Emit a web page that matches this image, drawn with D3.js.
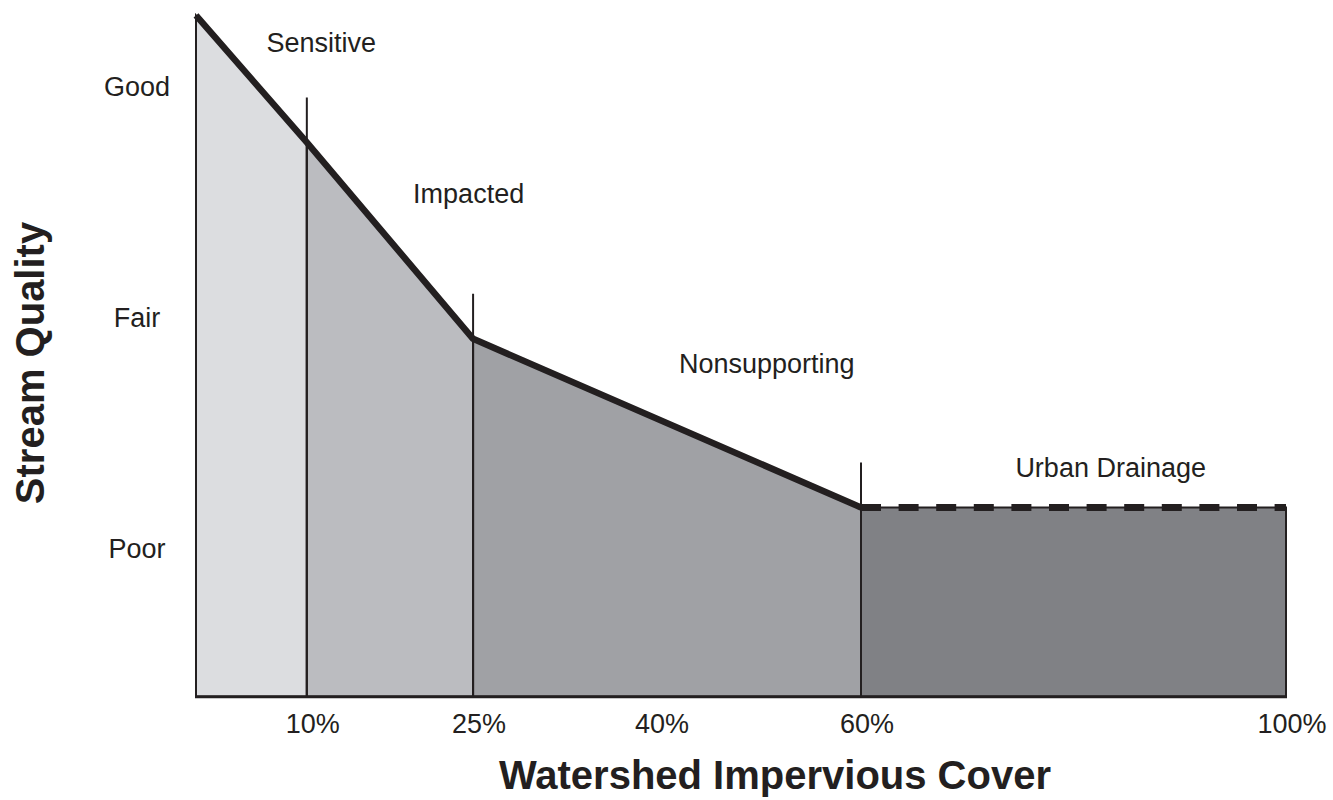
<!DOCTYPE html>
<html>
<head>
<meta charset="utf-8">
<script src="https://cdn.jsdelivr.net/npm/d3@7"></script>
<style>
  body { margin: 0; background: #fff; }
  svg { display: block; font-family: "Liberation Sans", Arial, Helvetica, sans-serif; }
  .lbl { font-size: 27px; fill: #231f20; }
  .title { font-size: 40px; font-weight: bold; fill: #231f20; }
</style>
</head>
<body>
<div id="chart"></div>
<script>
// impervious cover breakpoints (%) and stream quality there (Poor=1, Fair=2, Good=3)
var coverPoints = [0, 10, 25, 60, 100];
var qualityPoints = [3.31, 2.76, 1.91, 1.18, 1.18];
var qualityFloor = 0.36;

var zoneNames = ["Sensitive", "Impacted", "Nonsupporting", "Urban Drainage"];
var zoneColors = ["#dcdde0", "#bbbcc0", "#a0a1a5", "#808185"];
var zoneLabelCover = [11.3, 24.6, 51.5, 83.5];
var zoneLabelQuality = [3.15, 2.5, 1.76, 1.31];

var xTickValues = [10, 25, 41.5, 60, 100];
var xTickLabels = ["10%", "25%", "40%", "60%", "100%"];
var yTickValues = [3, 2, 1];
var yTickLabels = ["Good", "Fair", "Poor"];

var width = 1333, height = 800;

var svg = d3.select("#chart").append("svg")
  .attr("width", width)
  .attr("height", height);

var x = d3.scaleLinear().domain([0, 60, 100]).range([196, 861, 1286]);
var y = d3.scaleLinear().domain([1, 3]).range([549, 87]);

var pts = coverPoints.map(function(c, i) { return {c: c, q: qualityPoints[i]}; });

// filled zones
for (var i = 0; i < 4; i++) {
  var a = pts[i], b = pts[i + 1];
  var poly = [[x(a.c), y(qualityFloor)], [x(a.c), y(a.q)], [x(b.c), y(b.q)], [x(b.c), y(qualityFloor)]];
  svg.append("path")
    .attr("d", d3.line()(poly) + "Z")
    .attr("fill", zoneColors[i])
    .attr("stroke", "#231f20")
    .attr("stroke-width", 2);
}

// zone boundary markers sticking up above the curve
[1, 2, 3].forEach(function(i) {
  svg.append("line")
    .attr("x1", x(pts[i].c)).attr("x2", x(pts[i].c))
    .attr("y1", y(qualityFloor)).attr("y2", y(pts[i].q) - 45)
    .attr("stroke", "#231f20")
    .attr("stroke-width", 2);
});

// bottom axis line
svg.append("line")
  .attr("x1", x(0) - 1).attr("x2", x(100) + 1)
  .attr("y1", y(qualityFloor)).attr("y2", y(qualityFloor))
  .attr("stroke", "#231f20").attr("stroke-width", 3);

// solid quality curve
var line = d3.line().x(function(d) { return x(d.c); }).y(function(d) { return y(d.q); });
svg.append("path")
  .attr("d", line(pts.slice(0, 4)))
  .attr("fill", "none")
  .attr("stroke", "#231f20")
  .attr("stroke-width", 6.5)
  .attr("stroke-linejoin", "round");

// dashed urban drainage level
svg.append("path")
  .attr("d", line(pts.slice(3)))
  .attr("fill", "none")
  .attr("stroke", "#231f20")
  .attr("stroke-width", 7)
  .attr("stroke-dasharray", "20,17.6");

// zone labels
zoneNames.forEach(function(n, i) {
  svg.append("text")
    .attr("class", "lbl")
    .attr("x", x(zoneLabelCover[i]))
    .attr("y", y(zoneLabelQuality[i]))
    .attr("text-anchor", "middle")
    .text(n);
});

// x tick labels
xTickValues.forEach(function(v, i) {
  svg.append("text")
    .attr("class", "lbl")
    .attr("x", x(v) + 6)
    .attr("y", 733)
    .attr("text-anchor", "middle")
    .text(xTickLabels[i]);
});

// y tick labels
yTickValues.forEach(function(v, i) {
  svg.append("text")
    .attr("class", "lbl")
    .attr("x", 137)
    .attr("y", y(v) + 9)
    .attr("text-anchor", "middle")
    .text(yTickLabels[i]);
});

// axis titles
svg.append("text")
  .attr("class", "title")
  .attr("x", 775)
  .attr("y", 789)
  .attr("text-anchor", "middle")
  .text("Watershed Impervious Cover");

svg.append("text")
  .attr("class", "title")
  .attr("transform", "translate(44,363) rotate(-90)")
  .attr("text-anchor", "middle")
  .text("Stream Quality");
</script>
</body>
</html>
